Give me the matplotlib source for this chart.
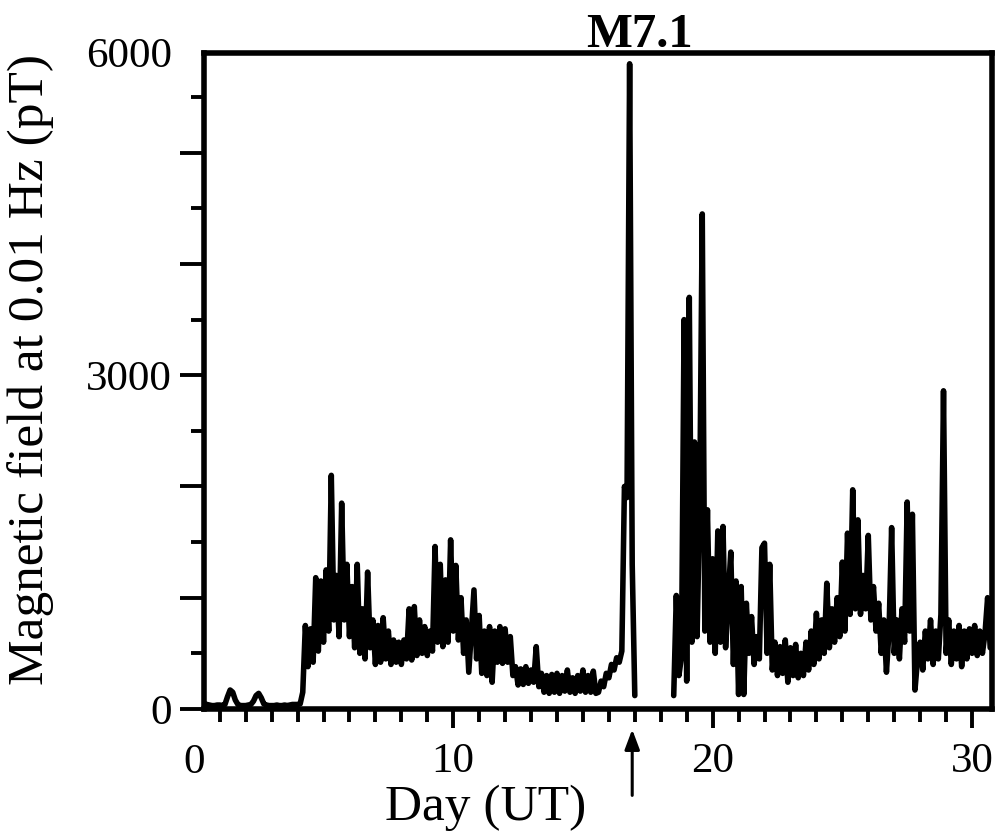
import matplotlib
matplotlib.use("Agg")
import matplotlib.pyplot as plt
import matplotlib.transforms as mtransforms
import numpy as np

plt.rcParams['font.family'] = ['Liberation Serif', 'DejaVu Serif']

# Magnetic field (pT) at 0.01 Hz, sampled every 0.1 day starting at day 0.4
start_day = 0.4
step_day = 0.1
nan = np.nan

quiet_days = [50, 40, 35, 30, 30, 35,
              35, 30, 40, 110, 170, 150, 80, 40, 30, 30,
              30, 35, 40, 70, 120, 140, 100, 45, 35, 30,
              30, 30, 35, 30, 30, 35, 30, 35, 40, 40]
days_4_8 = [40, 45, 150, 750, 380, 720, 420, 1180, 520, 1150,
            600, 1250, 700, 2100, 800, 1200, 650, 1850, 800, 1300,
            650, 1100, 550, 1300, 500, 900, 450, 1230, 550, 800,
            400, 750, 420, 820, 450, 700, 400, 620, 420, 600,
            400, 620, 450, 900, 440, 920, 480, 800, 500, 740]
days_9_12 = [480, 700, 520, 1460, 600, 1300, 560, 1160, 600, 1520,
             700, 1290, 620, 1000, 500, 800, 330, 700, 1070, 450,
             840, 320, 700, 300, 740, 240, 700, 420, 740, 410,
             720, 420, 650, 300, 380, 215, 360, 220, 380, 230]
days_13_16 = [350, 240, 560, 200, 320, 150, 300, 140, 310, 150,
              320, 140, 300, 160, 350, 150, 280, 140, 300, 160,
              350, 150, 300, 150, 340, 140, 150, 250, 200, 320,
              280, 400, 350, 460, 420, 520, 2000, 1900, 5800, 1300]
# data gap after the earthquake
days_17_18 = [120, nan, nan, nan, nan, nan, nan, nan, nan, nan,
              nan, nan, nan, nan, nan, 120, 1020, 300, 470, 3500]
days_19_22 = [250, 3700, 600, 2400, 650, 1800, 4450, 700, 1790, 600,
              1350, 500, 1600, 600, 1640, 550, 1000, 1410, 400, 1150,
              130, 1100, 130, 950, 500, 830, 400, 650, 450, 1450,
              1490, 500, 1300, 350, 600, 300, 560, 320, 620, 240]
days_23_26 = [550, 300, 580, 280, 500, 300, 600, 350, 700, 400,
              860, 450, 800, 500, 1130, 550, 900, 600, 1000, 650,
              1320, 700, 1580, 850, 1970, 900, 1700, 850, 1200, 900,
              1560, 800, 1100, 700, 950, 500, 800, 330, 700, 1630]
days_27_30 = [500, 800, 450, 900, 600, 1860, 700, 1750, 170, 450,
              600, 350, 700, 450, 800, 400, 700, 450, 850, 2860,
              500, 800, 400, 700, 450, 750, 380, 700, 450, 720,
              500, 750, 480, 700, 500, 680, 1000, 550]

quake_day = 16.9
quake_label = "M7.1"

field = np.array(quiet_days + days_4_8 + days_9_12 + days_13_16 +
                 days_17_18 + days_19_22 + days_23_26 + days_27_30, dtype=float)
days = start_day + step_day * np.arange(len(field))

fig = plt.figure(figsize=(9.96, 8.36), dpi=100)
ax = fig.add_axes([0.205, 0.152, 0.791, 0.785])

ax.plot(days, field, color='black', lw=4.0,
        solid_joinstyle='round', solid_capstyle='round')

ax.set_xlim(0.4, 30.77)
ax.set_ylim(0, 5900)

# axes frame
for sp in ax.spines.values():
    sp.set_linewidth(4)

# x ticks: one per day, labelled every 10
ax.set_xticks([10, 20, 30])
ax.set_xticks(np.arange(1, 31), minor=True)
ax.tick_params(axis='x', which='major', length=14, width=2.8, pad=10,
               labelsize=31, direction='out')
ax.tick_params(axis='x', which='minor', length=9, width=2.8, direction='out')
trans_x = mtransforms.blended_transform_factory(ax.transData, ax.transAxes)
ax.text(0, -0.052, "0", transform=trans_x, ha='center', va='top',
        fontsize=31, clip_on=False)

# y ticks: long every 1000, short every 500
ax.set_yticks([0, 1000, 2000, 3000, 4000, 5000, 5900],
              labels=['0', '', '', '3000', '', '', '6000'])
ax.set_yticks(np.arange(500, 6000, 1000), minor=True)
ax.tick_params(axis='y', which='major', length=17, width=2.8, pad=6,
               labelsize=31, direction='out')
ax.tick_params(axis='y', which='minor', length=9.5, width=2.8, direction='out')
ax.yaxis.get_major_ticks()[-1].tick1line.set_visible(False)

ax.set_xlabel("Day (UT)", fontsize=37)
ax.xaxis.set_label_coords(0.357, -0.115)
ax.set_ylabel("Magnetic field at 0.01 Hz (pT)", fontsize=37)
ax.yaxis.set_label_coords(-0.19, 0.517)

# earthquake marker
ax.annotate("", xy=(quake_day, -0.027), xycoords=trans_x,
            xytext=(quake_day, -0.136), textcoords=trans_x,
            arrowprops=dict(arrowstyle='-|>,head_length=1.2,head_width=0.45',
                            color='black', lw=2.2))
ax.text(17.17, 1.027, quake_label, transform=trans_x, ha='center', va='center',
        fontsize=35, fontweight='bold')

fig.savefig("out.png", dpi=100)
